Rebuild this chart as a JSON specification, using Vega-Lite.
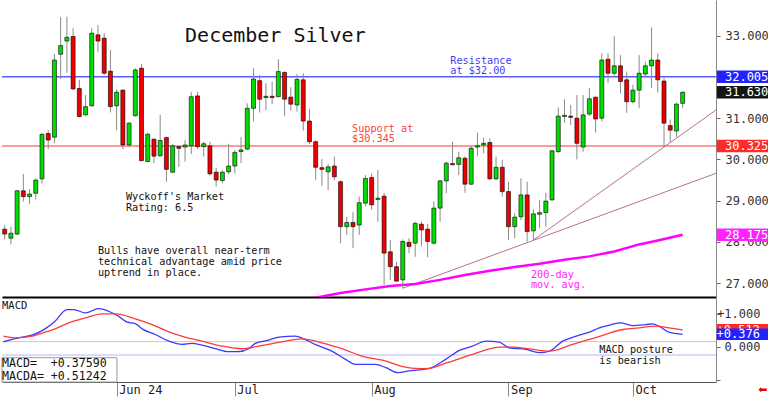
{
  "$schema": "https://vega.github.io/schema/vega-lite/v6.json",
  "padding": 0,
  "spacing": 1,
  "bounds": "flush",
  "background": "white",
  "config": {"view": {"stroke": null}, "font": "DejaVu Sans Mono", "text": {"font": "DejaVu Sans Mono"}, "scale": {"continuousPadding": 0}},
  "datasets": {
    "one": [{}],
    "candles": [
      {"i":0,"o":28.31,"h":28.41,"l":28.06,"c":28.19},{"i":1,"o":28.09,"h":28.37,"l":27.94,"c":28.21},{"i":2,"o":28.19,"h":29.26,"l":28.17,"c":29.24},{"i":3,"o":29.24,"h":29.65,"l":28.98,"c":29.10},{"i":4,"o":29.10,"h":29.28,"l":28.92,"c":29.16},
      {"i":5,"o":29.18,"h":29.54,"l":29.03,"c":29.50},{"i":6,"o":29.53,"h":30.63,"l":29.42,"c":30.61},{"i":7,"o":30.63,"h":30.71,"l":30.25,"c":30.47},{"i":8,"o":30.54,"h":32.56,"l":30.39,"c":32.41},{"i":9,"o":32.55,"h":33.45,"l":31.95,"c":32.76},
      {"i":10,"o":32.87,"h":33.46,"l":32.10,"c":32.96},{"i":11,"o":32.98,"h":33.18,"l":31.68,"c":31.71},{"i":12,"o":31.72,"h":31.93,"l":31.02,"c":31.04},{"i":13,"o":31.08,"h":31.56,"l":31.06,"c":31.28},{"i":14,"o":31.30,"h":33.18,"l":31.28,"c":33.06},
      {"i":15,"o":33.02,"h":33.26,"l":32.60,"c":32.87},{"i":16,"o":32.94,"h":33.06,"l":32.05,"c":32.09},{"i":17,"o":32.14,"h":32.65,"l":31.14,"c":31.28},{"i":18,"o":31.30,"h":31.70,"l":30.71,"c":31.63},{"i":19,"o":31.68,"h":31.70,"l":30.25,"c":30.35},
      {"i":20,"o":30.35,"h":30.90,"l":30.31,"c":30.88},{"i":21,"o":31.06,"h":32.21,"l":31.04,"c":32.17},{"i":22,"o":32.21,"h":32.31,"l":29.96,"c":29.97},{"i":23,"o":29.95,"h":30.65,"l":29.93,"c":30.61},{"i":24,"o":30.49,"h":30.51,"l":29.91,"c":30.08},
      {"i":25,"o":30.09,"h":31.08,"l":30.07,"c":30.46},{"i":26,"o":30.53,"h":30.55,"l":29.46,"c":29.76},{"i":27,"o":29.69,"h":30.37,"l":29.68,"c":30.33},{"i":28,"o":30.31,"h":30.33,"l":29.82,"c":30.27},{"i":29,"o":30.30,"h":30.47,"l":29.95,"c":30.35},
      {"i":30,"o":30.33,"h":31.64,"l":30.13,"c":31.52},{"i":31,"o":31.54,"h":31.64,"l":30.25,"c":30.31},{"i":32,"o":30.31,"h":30.43,"l":30.07,"c":30.38},{"i":33,"o":30.33,"h":30.43,"l":29.61,"c":29.65},{"i":34,"o":29.69,"h":29.80,"l":29.34,"c":29.50},
      {"i":35,"o":29.49,"h":29.74,"l":29.42,"c":29.69},{"i":36,"o":29.70,"h":30.38,"l":29.64,"c":29.84},{"i":37,"o":29.84,"h":30.23,"l":29.66,"c":30.17},{"i":38,"o":30.19,"h":30.54,"l":29.91,"c":30.23},{"i":39,"o":30.25,"h":31.36,"l":30.23,"c":31.24},
      {"i":40,"o":31.24,"h":32.21,"l":30.92,"c":31.95},{"i":41,"o":31.91,"h":32.05,"l":31.14,"c":31.46},{"i":42,"o":31.50,"h":31.85,"l":31.20,"c":31.53},{"i":43,"o":31.53,"h":31.89,"l":31.34,"c":31.50},{"i":44,"o":31.52,"h":32.43,"l":31.51,"c":32.13},
      {"i":45,"o":32.11,"h":32.13,"l":31.06,"c":31.46},{"i":46,"o":31.51,"h":31.75,"l":31.18,"c":31.34},{"i":47,"o":31.32,"h":32.07,"l":31.16,"c":31.94},{"i":48,"o":31.93,"h":32.09,"l":30.70,"c":30.93},{"i":49,"o":30.93,"h":31.22,"l":30.37,"c":30.43},
      {"i":50,"o":30.43,"h":30.46,"l":29.50,"c":29.81},{"i":51,"o":29.80,"h":30.01,"l":29.36,"c":29.76},{"i":52,"o":29.70,"h":29.89,"l":29.26,"c":29.82},{"i":53,"o":29.84,"h":30.07,"l":29.50,"c":29.58},{"i":54,"o":29.46,"h":29.49,"l":27.97,"c":28.37},
      {"i":55,"o":28.37,"h":28.61,"l":28.17,"c":28.47},{"i":56,"o":28.47,"h":28.73,"l":27.85,"c":28.37},{"i":57,"o":28.41,"h":29.10,"l":28.17,"c":28.95},{"i":58,"o":28.94,"h":29.62,"l":28.86,"c":29.54},{"i":59,"o":29.56,"h":29.66,"l":28.78,"c":28.90},
      {"i":60,"o":29.03,"h":29.74,"l":28.49,"c":29.06},{"i":61,"o":29.11,"h":29.19,"l":26.96,"c":27.73},{"i":62,"o":27.76,"h":28.05,"l":27.08,"c":27.40},{"i":63,"o":27.40,"h":27.52,"l":27.04,"c":27.05},{"i":64,"o":27.08,"h":28.06,"l":26.88,"c":28.01},
      {"i":65,"o":27.99,"h":28.09,"l":27.73,"c":27.89},{"i":66,"o":27.97,"h":28.49,"l":27.64,"c":28.45},{"i":67,"o":28.43,"h":28.49,"l":27.89,"c":28.29},{"i":68,"o":28.31,"h":28.44,"l":27.63,"c":28.01},{"i":69,"o":27.97,"h":28.98,"l":27.93,"c":28.82},
      {"i":70,"o":28.82,"h":29.50,"l":28.49,"c":29.48},{"i":71,"o":29.48,"h":29.95,"l":29.18,"c":29.91},{"i":72,"o":29.90,"h":30.43,"l":29.86,"c":29.87},{"i":73,"o":29.88,"h":30.19,"l":29.62,"c":30.04},{"i":74,"o":30.03,"h":30.07,"l":29.19,"c":29.40},
      {"i":75,"o":29.40,"h":30.33,"l":29.38,"c":30.27},{"i":76,"o":30.30,"h":30.65,"l":30.08,"c":30.33},{"i":77,"o":30.35,"h":30.53,"l":30.15,"c":30.39},{"i":78,"o":30.41,"h":30.51,"l":29.50,"c":29.53},{"i":79,"o":29.53,"h":30.07,"l":29.50,"c":29.81},
      {"i":80,"o":29.81,"h":29.99,"l":29.10,"c":29.22},{"i":81,"o":29.22,"h":29.46,"l":28.05,"c":28.37},{"i":82,"o":28.37,"h":28.70,"l":28.09,"c":28.60},{"i":83,"o":28.61,"h":29.54,"l":28.53,"c":29.14},{"i":84,"o":29.14,"h":29.46,"l":28.01,"c":28.25},
      {"i":85,"o":28.27,"h":28.79,"l":28.05,"c":28.68},{"i":86,"o":28.67,"h":29.02,"l":28.33,"c":28.71},{"i":87,"o":28.71,"h":29.19,"l":28.37,"c":28.99},{"i":88,"o":29.02,"h":30.23,"l":29.00,"c":30.21},{"i":89,"o":30.19,"h":31.26,"l":30.16,"c":31.05},
      {"i":90,"o":31.04,"h":31.46,"l":30.89,"c":31.07},{"i":91,"o":31.05,"h":31.32,"l":30.84,"c":31.02},{"i":92,"o":31.00,"h":31.56,"l":30.00,"c":30.39},{"i":93,"o":30.30,"h":31.56,"l":30.19,"c":31.08},{"i":94,"o":31.10,"h":31.73,"l":31.05,"c":31.47},
      {"i":95,"o":31.51,"h":31.52,"l":30.65,"c":30.98},{"i":96,"o":31.00,"h":32.57,"l":30.92,"c":32.41},{"i":97,"o":32.43,"h":32.57,"l":31.85,"c":32.09},{"i":98,"o":32.09,"h":32.99,"l":31.99,"c":32.27},{"i":99,"o":32.27,"h":32.53,"l":31.60,"c":31.89},
      {"i":100,"o":31.93,"h":32.13,"l":31.13,"c":31.40},{"i":101,"o":31.40,"h":31.81,"l":31.36,"c":31.68},{"i":102,"o":31.68,"h":32.53,"l":31.24,"c":32.09},{"i":103,"o":32.07,"h":32.37,"l":32.01,"c":32.27},{"i":104,"o":32.27,"h":33.20,"l":31.73,"c":32.41},
      {"i":105,"o":32.41,"h":32.57,"l":31.62,"c":31.93},{"i":106,"o":31.90,"h":31.97,"l":30.31,"c":30.88},{"i":107,"o":30.82,"h":30.97,"l":30.41,"c":30.71},{"i":108,"o":30.69,"h":31.38,"l":30.54,"c":31.34},{"i":109,"o":31.36,"h":31.64,"l":31.24,"c":31.63}
    ],
    "levels": [{"k":"res","v":32.005},{"k":"sup","v":30.325}],
    "trend": [{"id":"a","i":64,"p":26.876},{"id":"a","i":114.36,"p":29.664},{"id":"b","i":85,"p":28.047},{"id":"b","i":114.36,"p":31.199}],
    "ma": [{"i":46,"v":26.57},{"i":50,"v":26.65},{"i":54,"v":26.76},{"i":58,"v":26.85},{"i":62,"v":26.93},{"i":66,"v":26.98},{"i":70,"v":27.08},{"i":74,"v":27.2},{"i":78,"v":27.3},{"i":82,"v":27.39},{"i":86,"v":27.47},{"i":90,"v":27.57},{"i":94,"v":27.65},{"i":98,"v":27.77},{"i":102,"v":27.94},{"i":105,"v":28.035},{"i":109,"v":28.175}],
    "tags": [{"k":"res","v":32.005},{"k":"last","v":31.63},{"k":"sup","v":30.325},{"k":"ma","v":28.175}],
    "mlevels": [{"k":"r","v":0.155},{"k":"b","v":-0.25}],
    "mtags": [{"k":"MACDA","v":0.512},{"k":"MACD","v":0.376}],
    "macd": [
      {"s":"MACD","i":-0.2,"v":0.15},{"s":"MACD","i":1.2,"v":0.22},{"s":"MACD","i":2.8,"v":0.29},{"s":"MACD","i":4.7,"v":0.37},{"s":"MACD","i":6.5,"v":0.54},{"s":"MACD","i":8.1,"v":0.77},{"s":"MACD","i":10.0,"v":1.12},{"s":"MACD","i":11.1,"v":1.12},{"s":"MACD","i":13.0,"v":1.02},{"s":"MACD","i":15.1,"v":1.15},{"s":"MACD","i":16.7,"v":1.07},{"s":"MACD","i":18.3,"v":0.92},{"s":"MACD","i":19.7,"v":0.74},{"s":"MACD","i":21.0,"v":0.70},{"s":"MACD","i":22.1,"v":0.54},{"s":"MACD","i":24.2,"v":0.37},{"s":"MACD","i":26.4,"v":0.17},{"s":"MACD","i":28.5,"v":0.07},{"s":"MACD","i":30.1,"v":0.10},{"s":"MACD","i":31.7,"v":0.05},{"s":"MACD","i":33.9,"v":-0.06},{"s":"MACD","i":36.0,"v":-0.15},{"s":"MACD","i":37.6,"v":-0.15},{"s":"MACD","i":39.2,"v":-0.06},{"s":"MACD","i":40.3,"v":0.10},{"s":"MACD","i":42.4,"v":0.20},{"s":"MACD","i":44.1,"v":0.29},{"s":"MACD","i":46.7,"v":0.32},{"s":"MACD","i":48.1,"v":0.24},{"s":"MACD","i":49.9,"v":0.07},{"s":"MACD","i":52.6,"v":-0.13},{"s":"MACD","i":54.8,"v":-0.38},{"s":"MACD","i":56.4,"v":-0.53},{"s":"MACD","i":58.0,"v":-0.53},{"s":"MACD","i":59.6,"v":-0.53},{"s":"MACD","i":61.3,"v":-0.63},{"s":"MACD","i":63.2,"v":-0.78},{"s":"MACD","i":65.0,"v":-0.73},{"s":"MACD","i":68.3,"v":-0.65},{"s":"MACD","i":70.9,"v":-0.38},{"s":"MACD","i":73.1,"v":-0.11},{"s":"MACD","i":75.2,"v":0.02},{"s":"MACD","i":77.4,"v":0.17},{"s":"MACD","i":79.5,"v":0.14},{"s":"MACD","i":81.1,"v":-0.03},{"s":"MACD","i":83.8,"v":-0.08},{"s":"MACD","i":85.9,"v":-0.18},{"s":"MACD","i":87.6,"v":-0.13},{"s":"MACD","i":89.7,"v":0.17},{"s":"MACD","i":91.9,"v":0.32},{"s":"MACD","i":94.0,"v":0.44},{"s":"MACD","i":95.6,"v":0.57},{"s":"MACD","i":97.6,"v":0.67},{"s":"MACD","i":99.0,"v":0.72},{"s":"MACD","i":100.9,"v":0.64},{"s":"MACD","i":103.1,"v":0.67},{"s":"MACD","i":104.2,"v":0.69},{"s":"MACD","i":105.2,"v":0.62},{"s":"MACD","i":106.8,"v":0.44},{"s":"MACD","i":109.0,"v":0.376},
      {"s":"MACDA","i":-0.2,"v":0.32},{"s":"MACDA","i":1.7,"v":0.27},{"s":"MACDA","i":4.4,"v":0.32},{"s":"MACDA","i":6.5,"v":0.44},{"s":"MACDA","i":8.1,"v":0.54},{"s":"MACDA","i":10.3,"v":0.72},{"s":"MACDA","i":13.0,"v":0.87},{"s":"MACDA","i":15.6,"v":0.99},{"s":"MACDA","i":17.8,"v":0.99},{"s":"MACDA","i":21.0,"v":0.84},{"s":"MACDA","i":23.7,"v":0.67},{"s":"MACDA","i":26.4,"v":0.45},{"s":"MACDA","i":29.0,"v":0.29},{"s":"MACDA","i":31.7,"v":0.17},{"s":"MACDA","i":34.9,"v":0.02},{"s":"MACDA","i":38.2,"v":-0.06},{"s":"MACDA","i":41.4,"v":0.04},{"s":"MACDA","i":44.6,"v":0.15},{"s":"MACDA","i":47.8,"v":0.24},{"s":"MACDA","i":51.0,"v":0.12},{"s":"MACDA","i":54.2,"v":-0.06},{"s":"MACDA","i":57.4,"v":-0.28},{"s":"MACDA","i":61.3,"v":-0.43},{"s":"MACDA","i":64.0,"v":-0.60},{"s":"MACDA","i":66.7,"v":-0.66},{"s":"MACDA","i":68.3,"v":-0.65},{"s":"MACDA","i":70.4,"v":-0.53},{"s":"MACDA","i":73.6,"v":-0.33},{"s":"MACDA","i":76.8,"v":-0.13},{"s":"MACDA","i":79.5,"v":-0.01},{"s":"MACDA","i":81.7,"v":-0.01},{"s":"MACDA","i":84.9,"v":-0.08},{"s":"MACDA","i":87.6,"v":-0.13},{"s":"MACDA","i":91.3,"v":0.07},{"s":"MACDA","i":94.9,"v":0.27},{"s":"MACDA","i":99.4,"v":0.52},{"s":"MACDA","i":102.0,"v":0.57},{"s":"MACDA","i":104.7,"v":0.62},{"s":"MACDA","i":106.8,"v":0.57},{"s":"MACDA","i":109.0,"v":0.512}
    ]
  },
  "vconcat": [
    {
      "width": 714,
      "height": 297,
      "resolve": {"scale": {"color": "independent"}},
      "layer": [
        {"data": {"name": "levels"}, "transform": [{"filter": "datum.k == 'res'"}],
         "mark": {"type": "rule", "color": "#5c5cff", "strokeWidth": 1.5},
         "encoding": {"y": {"field": "v", "type": "quantitative", "scale": {"domain": [26.665, 33.865], "nice": false, "zero": false}}}},
        {"data": {"name": "levels"}, "transform": [{"filter": "datum.k == 'sup'"}],
         "mark": {"type": "rule", "color": "#ff7878", "strokeWidth": 1.5},
         "encoding": {"y": {"field": "v", "type": "quantitative", "scale": {"domain": [26.665, 33.865], "nice": false, "zero": false}}}},
        {"data": {"name": "trend"},
         "mark": {"type": "line", "color": "#b8708f", "strokeWidth": 1, "clip": true},
         "encoding": {
           "x": {"field": "i", "type": "quantitative", "scale": {"domain": [-0.43, 114.36], "nice": false, "zero": false, "padding": 0}},
           "y": {"field": "p", "type": "quantitative", "scale": {"domain": [26.665, 33.865], "nice": false, "zero": false}},
           "detail": {"field": "id", "type": "nominal"}}},
        {"data": {"name": "ma"},
         "mark": {"type": "line", "color": "#ff00ff", "strokeWidth": 2.5, "clip": true},
         "encoding": {
           "x": {"field": "i", "type": "quantitative", "scale": {"domain": [-0.43, 114.36], "nice": false, "zero": false, "padding": 0}},
           "y": {"field": "v", "type": "quantitative", "scale": {"domain": [26.665, 33.865], "nice": false, "zero": false}}}},
        {"data": {"name": "candles"},
         "mark": {"type": "rule", "color": "#8a8a8a", "strokeWidth": 1},
         "encoding": {
           "x": {"field": "i", "type": "quantitative", "scale": {"domain": [-0.43, 114.36], "nice": false, "zero": false, "padding": 0},
                 "axis": {"title": null, "zindex": 0, "domain": true, "domainColor": "#000000", "domainWidth": 2, "ticks": false, "labels": false, "grid": false}},
           "y": {"field": "l", "type": "quantitative", "scale": {"domain": [26.665, 33.865], "nice": false, "zero": false},
                 "axis": {"title": null, "zindex": 0, "orient": "right", "grid": false, "values": [27, 27.5, 28, 28.5, 29, 29.5, 30, 30.5, 31, 31.5, 32, 32.5, 33, 33.5],
                          "labelExpr": "datum.value % 1 === 0 && datum.value != 32 ? format(datum.value, '.3f') : ''", "labelOverlap": false,
                          "tickSize": 4, "tickColor": "#666666", "domainColor": "#888888", "labelPadding": 5, "labelAlign": "left",
                          "labelBaseline": "middle", "labelFont": "DejaVu Sans Mono", "labelFontSize": 12, "labelColor": "#333333"}},
           "y2": {"field": "h"}}},
        {"data": {"name": "candles"},
         "mark": {"type": "bar", "width": 4, "stroke": "#000000", "strokeWidth": 0.6},
         "encoding": {
           "x": {"field": "i", "type": "quantitative", "scale": {"domain": [-0.43, 114.36], "nice": false, "zero": false, "padding": 0}},
           "y": {"field": "o", "type": "quantitative", "scale": {"domain": [26.665, 33.865], "nice": false, "zero": false}},
           "y2": {"field": "c"},
           "color": {"condition": {"test": "datum.c >= datum.o", "value": "#00dd00"}, "value": "#ee0000"}}},
        {"data": {"name": "one"},
         "mark": {"type": "text", "text": "December Silver", "align": "left", "baseline": "alphabetic", "fontSize": 20, "color": "#111111"},
         "encoding": {"x": {"datum": 29.0, "type": "quantitative", "scale": {"domain": [-0.43, 114.36], "nice": false, "zero": false, "padding": 0}},
                      "y": {"datum": 32.855, "type": "quantitative", "scale": {"domain": [26.665, 33.865], "nice": false, "zero": false}}}},
        {"data": {"name": "one"},
         "mark": {"type": "text", "text": "Resistance\nat $32.00", "lineBreak": "\n", "lineHeight": 10, "align": "left", "baseline": "alphabetic", "fontSize": 10.2, "color": "#3c3cff"},
         "encoding": {"x": {"datum": 71.64, "type": "quantitative", "scale": {"domain": [-0.43, 114.36], "nice": false, "zero": false, "padding": 0}},
                      "y": {"datum": 32.307, "type": "quantitative", "scale": {"domain": [26.665, 33.865], "nice": false, "zero": false}}}},
        {"data": {"name": "one"},
         "mark": {"type": "text", "text": "Support at\n$30.345", "lineBreak": "\n", "lineHeight": 10, "align": "left", "baseline": "alphabetic", "fontSize": 10.2, "color": "#ff4040"},
         "encoding": {"x": {"datum": 55.84, "type": "quantitative", "scale": {"domain": [-0.43, 114.36], "nice": false, "zero": false, "padding": 0}},
                      "y": {"datum": 30.673, "type": "quantitative", "scale": {"domain": [26.665, 33.865], "nice": false, "zero": false}}}},
        {"data": {"name": "one"},
         "mark": {"type": "text", "text": "Wyckoff's Market\nRating: 6.5", "lineBreak": "\n", "lineHeight": 11, "align": "left", "baseline": "alphabetic", "fontSize": 10.2, "color": "#111111"},
         "encoding": {"x": {"datum": 19.5, "type": "quantitative", "scale": {"domain": [-0.43, 114.36], "nice": false, "zero": false, "padding": 0}},
                      "y": {"datum": 29.005, "type": "quantitative", "scale": {"domain": [26.665, 33.865], "nice": false, "zero": false}}}},
        {"data": {"name": "one"},
         "mark": {"type": "text", "text": "Bulls have overall near-term\ntechnical advantage amid price\nuptrend in place.", "lineBreak": "\n", "lineHeight": 10.7, "align": "left", "baseline": "alphabetic", "fontSize": 10.2, "color": "#111111"},
         "encoding": {"x": {"datum": 15.0, "type": "quantitative", "scale": {"domain": [-0.43, 114.36], "nice": false, "zero": false, "padding": 0}},
                      "y": {"datum": 27.701, "type": "quantitative", "scale": {"domain": [26.665, 33.865], "nice": false, "zero": false}}}},
        {"data": {"name": "one"},
         "mark": {"type": "text", "text": "200-day\nmov. avg.", "lineBreak": "\n", "lineHeight": 10, "align": "left", "baseline": "alphabetic", "fontSize": 10.2, "color": "#ff22ff"},
         "encoding": {"x": {"datum": 84.6, "type": "quantitative", "scale": {"domain": [-0.43, 114.36], "nice": false, "zero": false, "padding": 0}},
                      "y": {"datum": 27.119, "type": "quantitative", "scale": {"domain": [26.665, 33.865], "nice": false, "zero": false}}}},
        {"data": {"name": "tags"},
         "mark": {"type": "rule", "strokeWidth": 12.5, "strokeCap": "butt"},
         "encoding": {
           "x": {"datum": 114.5, "type": "quantitative", "scale": {"domain": [-0.43, 114.36], "nice": false, "zero": false, "padding": 0}},
           "x2": {"datum": 122.95},
           "y": {"field": "v", "type": "quantitative", "scale": {"domain": [26.665, 33.865], "nice": false, "zero": false}},
           "color": {"field": "k", "type": "nominal", "scale": {"domain": ["res", "last", "sup", "ma"], "range": ["#2222ff", "#151515", "#ff2a2a", "#ff22ff"]}, "legend": null}}},
        {"data": {"name": "tags"},
         "mark": {"type": "text", "align": "left", "baseline": "middle", "fontSize": 12, "color": "#ffffff"},
         "encoding": {
           "x": {"datum": 115.8, "type": "quantitative", "scale": {"domain": [-0.43, 114.36], "nice": false, "zero": false, "padding": 0}},
           "y": {"field": "v", "type": "quantitative", "scale": {"domain": [26.665, 33.865], "nice": false, "zero": false}},
           "text": {"field": "v", "type": "quantitative", "format": ".3f"}}}
      ]
    },
    {
      "width": 714,
      "height": 84,
      "layer": [
        {"data": {"name": "mlevels"}, "transform": [{"filter": "datum.k == 'r'"}],
         "mark": {"type": "rule", "color": "#ffb4b4", "strokeWidth": 1},
         "encoding": {"y": {"field": "v", "type": "quantitative", "scale": {"domain": [-1.063, 1.47], "nice": false, "zero": false}}}},
        {"data": {"name": "mlevels"}, "transform": [{"filter": "datum.k == 'b'"}],
         "mark": {"type": "rule", "color": "#b4b4ff", "strokeWidth": 1},
         "encoding": {"y": {"field": "v", "type": "quantitative", "scale": {"domain": [-1.063, 1.47], "nice": false, "zero": false}}}},
        {"data": {"name": "macd"},
         "mark": {"type": "line", "strokeWidth": 1.3, "interpolate": "monotone"},
         "encoding": {
           "x": {"field": "i", "type": "quantitative", "scale": {"domain": [-0.43, 114.36], "nice": false, "zero": false, "padding": 0},
                 "axis": {"title": null, "zindex": 0, "grid": false, "values": [18, 37, 59, 81, 101],
                          "labelExpr": "datum.value == 18 ? 'Jun 24' : datum.value == 37 ? 'Jul' : datum.value == 59 ? 'Aug' : datum.value == 81 ? 'Sep' : 'Oct'",
                          "tickSize": 14, "tickColor": "#888888", "domainColor": "#555555", "labelAlign": "left", "labelOffset": 2,
                          "labelPadding": -12, "labelBaseline": "top", "labelFont": "DejaVu Sans Mono", "labelFontSize": 12, "labelColor": "#222222",
                          "labelFlush": false, "labelOverlap": false}},
           "y": {"field": "v", "type": "quantitative", "scale": {"domain": [-1.063, 1.47], "nice": false, "zero": false},
                 "axis": {"title": null, "zindex": 0, "orient": "right", "grid": false, "values": [-1, -0.5, 0, 0.5, 1],
                          "labelExpr": "datum.value == 1 ? '+1.000' : datum.value == 0 ? '0.000' : ''", "labelOverlap": false,
                          "tickSize": 4, "tickColor": "#666666", "domainColor": "#888888", "labelPadding": 40, "labelAlign": "right",
                          "labelBaseline": "middle", "labelFont": "DejaVu Sans Mono", "labelFontSize": 12, "labelColor": "#333333"}},
           "color": {"field": "s", "type": "nominal", "scale": {"domain": ["MACD", "MACDA"], "range": ["#3a3aff", "#ff3a3a"]}, "legend": null}}},
        {"data": {"name": "one"},
         "mark": {"type": "rect", "fill": "#ffffff", "stroke": "#999999", "strokeWidth": 1},
         "encoding": {
           "x": {"datum": -0.43, "type": "quantitative", "scale": {"domain": [-0.43, 114.36], "nice": false, "zero": false, "padding": 0}},
           "x2": {"datum": 18.05},
           "y": {"datum": -0.33, "type": "quantitative", "scale": {"domain": [-1.063, 1.47], "nice": false, "zero": false}},
           "y2": {"datum": -1.063}}},
        {"data": {"name": "one"},
         "mark": {"type": "text", "text": "MACD=\u00a0\u00a0+0.37590\nMACDA=\u00a0+0.51242", "lineBreak": "\n", "lineHeight": 13.3, "align": "left", "baseline": "alphabetic", "fontSize": 11.6, "color": "#111111"},
         "encoding": {"x": {"datum": -0.43, "type": "quantitative", "scale": {"domain": [-0.43, 114.36], "nice": false, "zero": false, "padding": 0}},
                      "y": {"datum": -0.602, "type": "quantitative", "scale": {"domain": [-1.063, 1.47], "nice": false, "zero": false}}}},
        {"data": {"name": "one"},
         "mark": {"type": "text", "text": "MACD", "align": "left", "baseline": "alphabetic", "fontSize": 10.5, "color": "#111111"},
         "encoding": {"x": {"datum": -0.43, "type": "quantitative", "scale": {"domain": [-0.43, 114.36], "nice": false, "zero": false, "padding": 0}},
                      "y": {"datum": 1.129, "type": "quantitative", "scale": {"domain": [-1.063, 1.47], "nice": false, "zero": false}}}},
        {"data": {"name": "one"},
         "mark": {"type": "text", "text": "MACD posture\nis bearish", "lineBreak": "\n", "lineHeight": 10.5, "align": "left", "baseline": "alphabetic", "fontSize": 10.2, "color": "#111111"},
         "encoding": {"x": {"datum": 95.6, "type": "quantitative", "scale": {"domain": [-0.43, 114.36], "nice": false, "zero": false, "padding": 0}},
                      "y": {"datum": -0.189, "type": "quantitative", "scale": {"domain": [-1.063, 1.47], "nice": false, "zero": false}}}},
        {"data": {"name": "mtags"}, "transform": [{"filter": "datum.k == 'MACDA'"}],
         "mark": {"type": "rule", "strokeWidth": 11.5, "strokeCap": "butt", "color": "#ff2a2a"},
         "encoding": {
           "x": {"datum": 114.5, "type": "quantitative", "scale": {"domain": [-0.43, 114.36], "nice": false, "zero": false, "padding": 0}},
           "x2": {"datum": 122.95},
           "y": {"field": "v", "type": "quantitative", "scale": {"domain": [-1.063, 1.47], "nice": false, "zero": false}}}},
        {"data": {"name": "mtags"}, "transform": [{"filter": "datum.k == 'MACDA'"}],
         "mark": {"type": "text", "align": "right", "baseline": "middle", "fontSize": 12, "color": "#ffffff"},
         "encoding": {
           "x": {"datum": 121.42, "type": "quantitative", "scale": {"domain": [-0.43, 114.36], "nice": false, "zero": false, "padding": 0}},
           "y": {"field": "v", "type": "quantitative", "scale": {"domain": [-1.063, 1.47], "nice": false, "zero": false}},
           "text": {"field": "v", "type": "quantitative", "format": "+.3f"}}},
        {"data": {"name": "mtags"}, "transform": [{"filter": "datum.k == 'MACD'"}],
         "mark": {"type": "rule", "strokeWidth": 11.5, "strokeCap": "butt", "color": "#2222ff"},
         "encoding": {
           "x": {"datum": 114.5, "type": "quantitative", "scale": {"domain": [-0.43, 114.36], "nice": false, "zero": false, "padding": 0}},
           "x2": {"datum": 122.95},
           "y": {"field": "v", "type": "quantitative", "scale": {"domain": [-1.063, 1.47], "nice": false, "zero": false}}}},
        {"data": {"name": "mtags"}, "transform": [{"filter": "datum.k == 'MACD'"}],
         "mark": {"type": "text", "align": "right", "baseline": "middle", "fontSize": 12, "color": "#ffffff"},
         "encoding": {
           "x": {"datum": 121.42, "type": "quantitative", "scale": {"domain": [-0.43, 114.36], "nice": false, "zero": false, "padding": 0}},
           "y": {"field": "v", "type": "quantitative", "scale": {"domain": [-1.063, 1.47], "nice": false, "zero": false}},
           "text": {"field": "v", "type": "quantitative", "format": "+.3f"}}},
        {"data": {"name": "one"},
         "mark": {"type": "text", "text": "⬅", "align": "center", "baseline": "middle", "fontSize": 11, "color": "#ee0000", "font": "DejaVu Sans"},
         "encoding": {"x": {"datum": 121.9, "type": "quantitative", "scale": {"domain": [-0.43, 114.36], "nice": false, "zero": false, "padding": 0}},
                      "y": {"datum": -1.305, "type": "quantitative", "scale": {"domain": [-1.063, 1.47], "nice": false, "zero": false}}}}
      ]
    }
  ]
}
